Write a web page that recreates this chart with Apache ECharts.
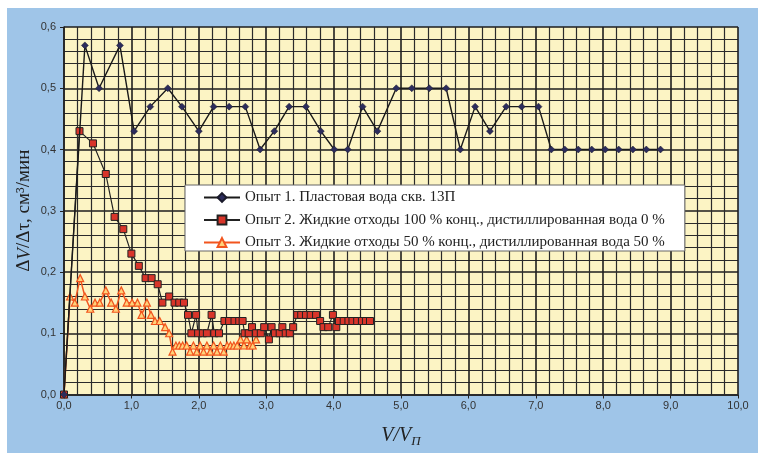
<!DOCTYPE html>
<html><head><meta charset="utf-8">
<script src="https://cdn.jsdelivr.net/npm/echarts@6/dist/echarts.min.js"></script>
<style>html,body{margin:0;padding:0;background:#fff}#c{width:758px;height:453px}</style>
</head><body><div id="c"></div>
<script>
// Series names
const names = [
  'Опыт 1. Пластовая вода скв. 13П',
  'Опыт 2. Жидкие отходы 100 % конц., дистиллированная вода 0 %',
  'Опыт 3. Жидкие отходы 50 % конц., дистиллированная вода 50 %'
];
// Series 1
const s1x = [0,0.31,0.52,0.83,1.04,1.28,1.54,1.75,2.00,2.22,2.45,2.69,2.91,3.12,3.34,3.59,3.81,4.01,4.21,4.43,4.65,4.93,5.16,5.42,5.67,5.88,6.10,6.32,6.56,6.79,7.04,7.23,7.43,7.63,7.83,8.03,8.23,8.44,8.64,8.85];
const s1y = [0,0.57,0.50,0.57,0.43,0.47,0.50,0.47,0.43,0.47,0.47,0.47,0.40,0.43,0.47,0.47,0.43,0.40,0.40,0.47,0.43,0.50,0.50,0.50,0.50,0.40,0.47,0.43,0.47,0.47,0.47,0.40,0.40,0.40,0.40,0.40,0.40,0.40,0.40,0.40];
// Series 2
const s2x = [0,0.23,0.43,0.62,0.75,0.88,1.00,1.11,1.21,1.30,1.39,1.46,1.56,1.64,1.71,1.78,1.84,1.89,1.96,1.99,2.06,2.12,2.19,2.23,2.30,2.38,2.45,2.53,2.60,2.65,2.68,2.74,2.79,2.85,2.92,2.97,3.04,3.08,3.13,3.20,3.24,3.29,3.35,3.40,3.46,3.52,3.59,3.66,3.74,3.80,3.85,3.92,3.99,4.04,4.08,4.15,4.22,4.28,4.35,4.42,4.48,4.54];
const s2y = [0,0.43,0.41,0.36,0.29,0.27,0.23,0.21,0.19,0.19,0.18,0.15,0.16,0.15,0.15,0.15,0.13,0.10,0.13,0.10,0.10,0.10,0.13,0.10,0.10,0.12,0.12,0.12,0.12,0.12,0.10,0.10,0.11,0.10,0.10,0.11,0.09,0.11,0.10,0.10,0.11,0.10,0.10,0.11,0.13,0.13,0.13,0.13,0.13,0.12,0.11,0.11,0.13,0.11,0.12,0.12,0.12,0.12,0.12,0.12,0.12,0.12];
// Series 3
const s3x = [0,0.09,0.16,0.24,0.31,0.39,0.46,0.53,0.62,0.70,0.77,0.85,0.93,1.01,1.09,1.15,1.23,1.29,1.35,1.42,1.50,1.56,1.61,1.66,1.71,1.76,1.82,1.87,1.92,1.97,2.02,2.07,2.12,2.17,2.22,2.27,2.32,2.37,2.42,2.47,2.52,2.57,2.62,2.67,2.71,2.76,2.80,2.85];
const s3y = [0,0.16,0.15,0.19,0.16,0.14,0.15,0.15,0.17,0.15,0.14,0.17,0.15,0.15,0.15,0.13,0.15,0.13,0.12,0.12,0.11,0.10,0.07,0.08,0.08,0.08,0.08,0.07,0.08,0.07,0.08,0.07,0.08,0.07,0.08,0.07,0.08,0.07,0.08,0.08,0.08,0.08,0.09,0.08,0.09,0.08,0.08,0.09];
// Axis ticks
const xTicks = {min:0, max:10, step:1};
const yTicks = {min:0, max:0.6, step:0.1};

const zip = (xs, ys) => xs.map((x, i) => [x, ys[i]]);
const fmt = v => v.toFixed(1).replace('.', ',');

const chart = echarts.init(document.getElementById('c'), null, {renderer:'canvas'});
chart.setOption({
  animation: false,
  backgroundColor: '#ffffff',
  graphic: [{type:'rect', z:-10, shape:{x:7, y:8, width:751, height:445}, style:{fill:'#9fc5e8'}}],
  grid: {left:64, right:20, top:27, bottom:58, show:true, backgroundColor:'#fcf4c4', borderWidth:0},
  legend: {
    orient:'vertical', left:185, top:185, itemGap:7.5, itemWidth:36, itemHeight:11,
    backgroundColor:'#ffffff', borderColor:'#666', borderWidth:1, padding:[5,20,1,18],
    textStyle:{fontFamily:'Liberation Serif', fontSize:15, color:'#222'},
    data: names
  },
  xAxis: {
    type:'value', min:xTicks.min, max:xTicks.max, interval:xTicks.step,
    name:'{i|V/V}{s|П}', nameLocation:'middle', nameGap:29, nameMoveOverlap:false,
    nameTextStyle:{rich:{
      i:{fontFamily:'Liberation Serif', fontStyle:'italic', fontSize:20, color:'#222', lineHeight:24},
      s:{fontFamily:'Liberation Serif', fontStyle:'italic', fontSize:13, color:'#222', lineHeight:24, padding:[12,0,0,0]}
    }},
    axisLine:{show:true, lineStyle:{color:'#222', width:1.5}},
    axisTick:{show:true, length:4, lineStyle:{color:'#222'}},
    axisLabel:{formatter:fmt, fontFamily:'Liberation Sans', fontSize:11, color:'#333', margin:6},
    splitLine:{show:true, lineStyle:{color:'#1e1e1e', width:1.6}},
    minorTick:{show:false, splitNumber:5},
    minorSplitLine:{show:true, lineStyle:{color:'#2a2a2a', width:1.2}}
  },
  yAxis: {
    type:'value', min:yTicks.min, max:yTicks.max, interval:yTicks.step,
    name:'{a|Δ}{i|V}{a|/Δτ, см³/мин}', nameLocation:'middle', nameGap:30, nameMoveOverlap:false,
    nameTextStyle:{rich:{
      a:{fontFamily:'Liberation Serif', fontSize:19, color:'#222'},
      i:{fontFamily:'Liberation Serif', fontStyle:'italic', fontSize:19, color:'#222'}
    }},
    axisLine:{show:true, lineStyle:{color:'#222', width:1.5}},
    axisTick:{show:true, length:4, lineStyle:{color:'#222'}},
    axisLabel:{formatter:fmt, fontFamily:'Liberation Sans', fontSize:11, color:'#333', margin:8},
    splitLine:{show:true, lineStyle:{color:'#1e1e1e', width:1.6}},
    minorTick:{show:false, splitNumber:5},
    minorSplitLine:{show:true, lineStyle:{color:'#2a2a2a', width:1.2}}
  },
  series: [
    {name:names[2], type:'line', data:zip(s3x, s3y), symbol:'triangle', symbolSize:7,
     lineStyle:{color:'#f2551e', width:1.5}, itemStyle:{color:'#ffd27a', borderColor:'#f2551e', borderWidth:1.2}, z:3},
    {name:names[1], type:'line', data:zip(s2x, s2y), symbol:'rect', symbolSize:7,
     lineStyle:{color:'#222', width:1.2}, itemStyle:{color:'#d9352a', borderColor:'#222', borderWidth:1}, z:4},
    {name:names[0], type:'line', data:zip(s1x, s1y), symbol:'diamond', symbolSize:7,
     lineStyle:{color:'#1a1a1a', width:1.4}, itemStyle:{color:'#2c2c5c', borderColor:'#1a1a2a', borderWidth:0.5}, z:5}
  ]
});
</script></body></html>
